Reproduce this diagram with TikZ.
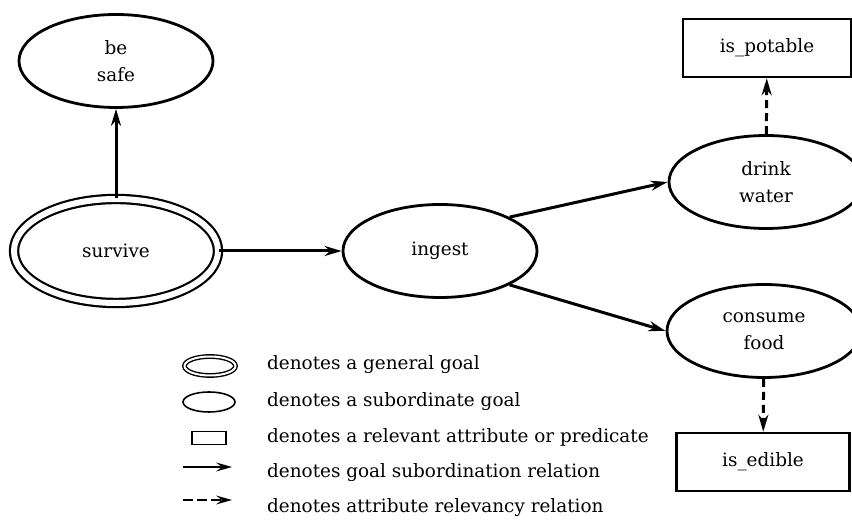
\documentclass[tikz,border=0pt]{standalone}
\usepackage{fontspec}
\setmainfont{DejaVu Serif}
\usepackage{tikz}
\usetikzlibrary{arrows.meta,shapes.geometric}

\begin{document}
\begin{tikzpicture}[x=1pt, y=1pt,
  txt/.style={font=\fontsize{18.4}{27}\selectfont},
  goal/.style={draw, ellipse, line width=2.8pt, inner sep=0pt, minimum width=194pt, minimum height=93pt, align=center, txt},
  topgoal/.style={goal, double, line width=2.2pt, double distance=6pt, minimum width=204pt, minimum height=104pt},
  attr/.style={draw, rectangle, line width=2.6pt, inner sep=0pt, minimum height=58pt, txt},
  subarr/.style={-{Stealth[length=17pt, width=10pt]}, line width=3pt},
  relarr/.style={subarr, dash pattern=on 8pt off 5pt},
  legsub/.style={-{Stealth[length=16pt, width=9pt, inset=6pt]}, line width=1.6pt},
  legrel/.style={legsub, dash pattern=on 10pt off 4pt},
  legtxt/.style={anchor=base west, inner sep=0pt, txt},
]
\useasboundingbox (0,0) rectangle (852,529);

\node[goal] (safe) at (116,468) {be\\safe};
\node[topgoal] (survive) at (116,278) {survive};
\node[goal] (ingest) at (440,278) {ingest};
\node[goal] (drink) at (766,347) {drink\\water};
\node[goal] (consume) at (764,198) {consume\\food};
\node[attr, minimum width=168pt] (potable) at (767,481) {is\_potable};
\node[attr, minimum width=173pt] (edible) at (763,67) {is\_edible};

\draw[subarr] (survive) -- (safe);
\draw[subarr] (survive.east) -- (ingest.west);
\draw[subarr] (ingest.north east) -- (drink.west);
\draw[subarr] (ingest.south east) -- (consume.west);
\draw[relarr] (drink) -- (potable);
\draw[relarr] (consume) -- (edible);

% legend
\node[draw, ellipse, double, line width=1.4pt, double distance=2pt, minimum width=51pt, minimum height=19pt] (kgen) at (210,163) {};
\node[draw, ellipse, line width=1.6pt, minimum width=52pt, minimum height=20pt] (ksub) at (209,127) {};
\node[draw, rectangle, line width=1.6pt, minimum width=34pt, minimum height=13pt] (kattr) at (209,91) {};
\coordinate (ks1) at (183,62);
\coordinate (ks2) at (232,62);
\coordinate (kr1) at (183,29);
\coordinate (kr2) at (232,29);
\draw[legsub] (ks1) -- (ks2);
\draw[legrel] (kr1) -- (kr2);

\node[legtxt] (t1) at (267,159) {denotes a general goal};
\node[legtxt] (t2) at (267,122) {denotes a subordinate goal};
\node[legtxt] (t3) at (267,86) {denotes a relevant attribute or predicate};
\node[legtxt] (t4) at (267,51) {denotes goal subordination relation};
\node[legtxt] (t5) at (267,16) {denotes attribute relevancy relation};
\end{tikzpicture}
\end{document}
